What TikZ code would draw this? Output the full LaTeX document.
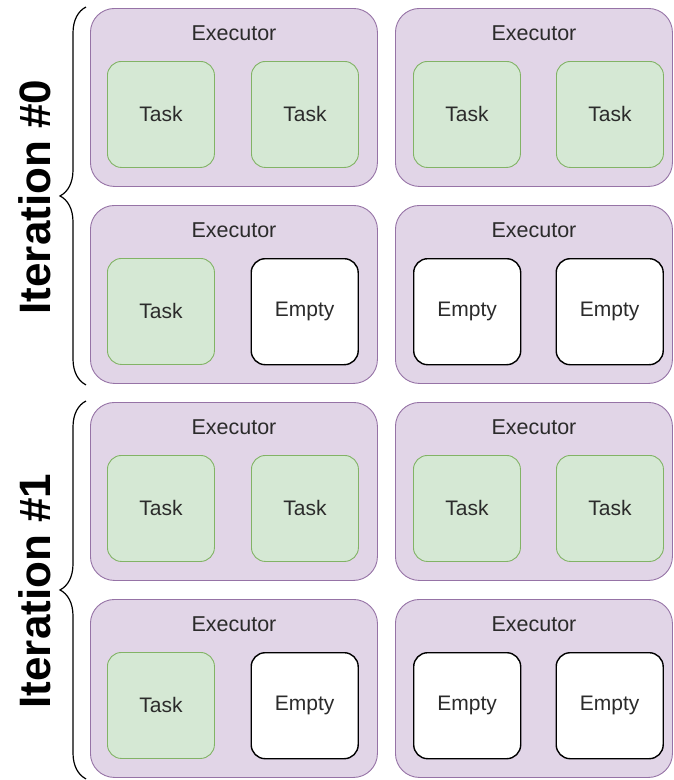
\documentclass[tikz,border=0pt]{standalone}
\usepackage{fontspec}
\setmainfont{Liberation Sans}
\usetikzlibrary{positioning,decorations.pathreplacing}

\definecolor{execfill}{HTML}{E1D5E7}
\definecolor{execline}{HTML}{9673A6}
\definecolor{taskfill}{HTML}{D5E8D4}
\definecolor{taskline}{HTML}{82B366}
\definecolor{labeltext}{HTML}{2B2B2B}

\tikzset{
  executor/.style={draw=execline, fill=execfill, line width=0.9pt, rounded corners=24pt,
    minimum height=178pt, anchor=north west, inner sep=0pt},
  execlabel/.style={font=\fontsize{21.5}{25}\selectfont, text=labeltext},
  slotbox/.style={rounded corners=14pt, minimum width=107pt, minimum height=106pt,
    inner sep=0pt, font=\fontsize{21}{25}\selectfont, text=labeltext},
  task/.style={slotbox, draw=taskline, fill=taskfill, line width=0.9pt, node contents=Task},
  emptybox/.style={slotbox, draw=black, fill=white, line width=1.4pt, node contents=Empty},
  iterbrace/.style={decorate, decoration={brace, amplitude=26pt}, line width=1.2pt},
  iterlabel/.style={rotate=90, font=\fontsize{44}{50}\selectfont\bfseries}
}

\begin{document}
\begin{tikzpicture}[x=1pt, y=-1pt]
\useasboundingbox (0,0) rectangle (673,780);

% executors, one row per pass
\foreach \r/\p/\q/\s/\t in {0/task/task/task/task,
                            1/task/emptybox/emptybox/emptybox,
                            2/task/task/task/task,
                            3/task/emptybox/emptybox/emptybox}{
  \node[executor, minimum width=287pt] (ex\r a) at (90, 8+197*\r) {};
  \node[executor, minimum width=277pt] (ex\r b) at (395, 8+197*\r) {};
  \node[execlabel] (lb\r a) at ([yshift=-25pt]ex\r a.north) {Executor};
  \node[execlabel] (lb\r b) at ([yshift=-25pt]ex\r b.north) {Executor};
  \node (sl\r a1) [\p, below right=53pt and 17pt of ex\r a.north west];
  \node (sl\r a2) [\q, below left=53pt and 19pt of ex\r a.north east];
  \node (sl\r b1) [\s, below right=53pt and 18pt of ex\r b.north west];
  \node (sl\r b2) [\t, below left=53pt and 9pt of ex\r b.north east];
}

% iteration braces
\coordinate (br0s) at ([xshift=-4pt, yshift=-1pt]ex1a.south west);
\coordinate (br0e) at ([xshift=-4pt, yshift=1pt]ex0a.north west);
\coordinate (br1s) at ([xshift=-4pt, yshift=-1pt]ex3a.south west);
\coordinate (br1e) at ([xshift=-4pt, yshift=1pt]ex2a.north west);
\draw[iterbrace] (br0s) -- (br0e);
\draw[iterbrace] (br1s) -- (br1e);

\node[iterlabel] (it0) at (35, 197) {Iteration \#0};
\node[iterlabel] (it1) at (35, 591) {Iteration \#1};
\end{tikzpicture}
\end{document}
